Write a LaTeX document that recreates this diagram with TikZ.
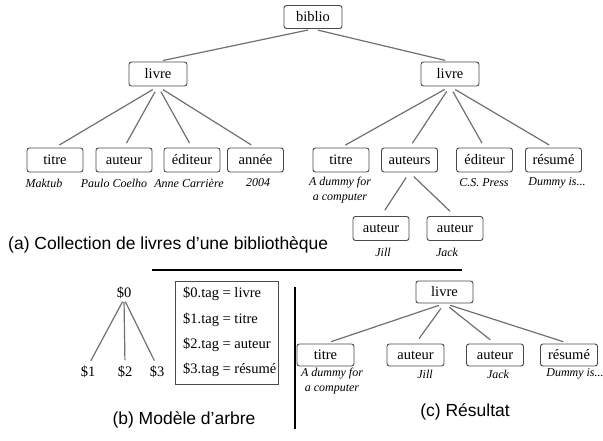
\documentclass[tikz,border=0pt]{standalone}
\usepackage{fontspec}
\setmainfont{Liberation Serif}
\newfontfamily\boxfont{Liberation Serif}
\newfontfamily\capfont{Liberation Sans}
\definecolor{boxgray}{HTML}{4A4A4A}
\definecolor{linegray}{HTML}{707070}
\begin{document}
\begin{tikzpicture}[x=1pt,y=-1pt,
  tbox/.style={draw=boxgray, line width=0.9pt, rounded corners=2.5pt, minimum width=56pt, minimum height=24pt, inner sep=0pt, font=\boxfont\fontsize{14.5}{16}\selectfont},
  sbox/.style={tbox, minimum width=57pt, minimum height=22pt},
  labtxt/.style={font=\boxfont\fontsize{12}{15}\selectfont\itshape, inner sep=0pt, align=center},
  conn/.style={draw=linegray, line width=1.2pt, shorten <=5pt, shorten >=5pt},
  captxt/.style={font=\capfont\fontsize{17.5}{20}\selectfont, inner sep=0pt},
  plaintxt/.style={font=\boxfont\fontsize{14.5}{16}\selectfont, inner sep=0pt},
  sepline/.style={draw=black, line width=1.1pt}]
\useasboundingbox (0,0) rectangle (603,441);

% (a) tree
\node[tbox, minimum width=58pt, minimum height=23pt] (biblio) at (313,17) {biblio};
\node[tbox, minimum width=58pt] (livreL) at (158,74) {livre};
\node[tbox, minimum width=58pt] (livreR) at (450,74) {livre};
\node[tbox] (t1) at (55,160) {titre};
\node[tbox] (a1) at (124,160) {auteur};
\node[tbox] (e1) at (192,160) {éditeur};
\node[tbox] (y1) at (255.5,160) {année};
\node[tbox] (t2) at (341,160) {titre};
\node[tbox] (as2) at (409.5,160) {auteurs};
\node[tbox] (e2) at (484.5,160) {éditeur};
\node[tbox] (r2) at (553.5,160) {résumé};
\node[tbox] (au1) at (381,228.5) {auteur};
\node[tbox] (au2) at (455,228.5) {auteur};

\node[labtxt] (lt1) at (44,183) {Maktub};
\node[labtxt] (la1) at (114,183) {Paulo Coelho};
\node[labtxt] (le1) at (189,183) {Anne Carrière};
\node[labtxt] (ly1) at (258,183) {2004};
\node[labtxt] (lt2) at (340,190.5) {A dummy for\\a computer};
\node[labtxt] (le2) at (484,183) {C.S. Press};
\node[labtxt] (lr2) at (557,183) {Dummy is...};
\node[labtxt] (lau1) at (383,252) {Jill};
\node[labtxt] (lau2) at (447,252) {Jack};

\draw[conn] (biblio.south) -- (livreL.north);
\draw[conn] (biblio.south) -- (livreR.north);
\foreach \c in {t1,a1,e1,y1} \draw[conn, shorten <=6pt] (livreL.south) -- (\c.north);
\foreach \c in {t2,as2,e2,r2} \draw[conn, shorten <=6pt] (livreR.south) -- (\c.north);
\foreach \c in {au1,au2} \draw[conn, shorten <=6pt, shorten >=7pt] (as2.south) -- (\c.north);

\node[captxt, anchor=west] (capa) at (8,245) {(a) Collection de livres d’une bibliothèque};

% separators
\coordinate (hA) at (152,270);
\coordinate (hB) at (462,270);
\draw[sepline] (hA) -- (hB);
\coordinate (vA) at (295,287);
\coordinate (vB) at (295,429);
\draw[sepline] (vA) -- (vB);

% (b) tree pattern
\node[plaintxt] (s0) at (124,293) {\$0};
\node[plaintxt] (s1) at (88,372) {\$1};
\node[plaintxt] (s2) at (125,372) {\$2};
\node[plaintxt] (s3) at (157,372) {\$3};
\draw[conn, shorten <=3pt, shorten >=6pt] (s0.south) -- (s1.north);
\draw[conn, shorten <=3pt, shorten >=6pt] (s0.south) -- (s2.north);
\draw[conn, shorten <=3pt, shorten >=6pt] (s0.south) -- (s3.north);
\node[draw=boxgray, line width=0.9pt, minimum width=103pt, minimum height=103pt, inner sep=0pt] (rules) at (226.5,332.5) {};
\node[plaintxt, anchor=west] (r0) at (183,294) {\$0.tag = livre};
\node[plaintxt, anchor=west] (r1) at (183,320) {\$1.tag = titre};
\node[plaintxt, anchor=west] (r2) at (183,345) {\$2.tag = auteur};
\node[plaintxt, anchor=west] (r3) at (183,370) {\$3.tag = résumé};
\node[captxt] (capb) at (184,420) {(b) Modèle d’arbre};

% (c) result
\node[sbox] (cl) at (444.5,292) {livre};
\node[sbox] (ct) at (325.5,355) {titre};
\node[sbox] (ca1) at (415.5,355) {auteur};
\node[sbox] (ca2) at (495,355) {auteur};
\node[sbox] (cr) at (569,355) {résumé};
\foreach \c in {ct,ca1,ca2,cr} \draw[conn, shorten <=6pt, shorten >=6pt] (cl.south) -- (\c.north);
\node[labtxt] (lct) at (332,381.5) {A dummy for\\a computer};
\node[labtxt] (lca1) at (425,374) {Jill};
\node[labtxt] (lca2) at (498,374) {Jack};
\node[labtxt] (lcr) at (575,374) {Dummy is...};
\node[captxt] (capc) at (465,412) {(c) Résultat};
\end{tikzpicture}
\end{document}
